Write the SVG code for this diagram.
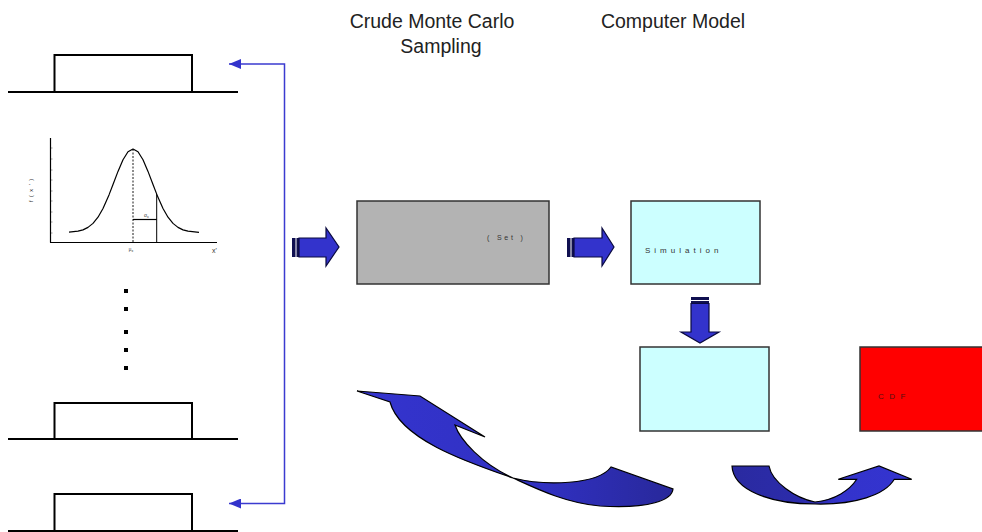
<svg xmlns="http://www.w3.org/2000/svg" width="982" height="532" viewBox="0 0 982 532">
  <style>
    .title { font-family: "Liberation Sans", Arial, sans-serif; font-size: 19.5px; fill: #222; }
    .tiny { font-family: "Liberation Sans", Arial, sans-serif; fill: #333; }
    .pulse { fill: #fff; stroke: #000; stroke-width: 2; }
    .base { stroke: #000; stroke-width: 2; fill: none; }
    .box { stroke: #333; stroke-width: 1.5; }
    .block { fill: #3333cc; stroke: #0a0a40; stroke-width: 1.2; stroke-linejoin: miter; }
    .stripe { fill: #101050; }
    .link { fill: none; stroke: #3b3bd0; stroke-width: 1.5; }
    .dot { fill: #000; }
    .curve { stroke: #000; stroke-width: 1.2; stroke-linejoin: miter; }
  </style>
  <defs>
    <marker id="tri" viewBox="0 0 12 10" refX="12" refY="5" markerWidth="12" markerHeight="10" markerUnits="userSpaceOnUse" orient="auto-start-reverse">
      <path d="M0,0 L12,5 L0,10 Z" fill="#3333cc"/>
    </marker>
    <linearGradient id="gLeft" x1="0" y1="0" x2="1" y2="0">
      <stop offset="0" stop-color="#3434cf"/>
      <stop offset="0.6" stop-color="#3030c0"/>
      <stop offset="1" stop-color="#28289a"/>
    </linearGradient>
    <linearGradient id="gRight" x1="0" y1="0" x2="1" y2="0">
      <stop offset="0" stop-color="#2a2aa0"/>
      <stop offset="0.45" stop-color="#2c2cad"/>
      <stop offset="0.6" stop-color="#3333cc"/>
      <stop offset="1" stop-color="#3434cf"/>
    </linearGradient>
  </defs>

  <!-- headings -->
  <g id="heading-sampling">
    <text class="title" x="432" y="28" text-anchor="middle">Crude Monte Carlo</text>
    <text class="title" x="441" y="53" text-anchor="middle">Sampling</text>
  </g>
  <g id="heading-model">
    <text class="title" x="673" y="28" text-anchor="middle">Computer Model</text>
  </g>

  <!-- input distributions -->
  <g id="input-uniform-1">
    <rect class="pulse" x="54.5" y="55" width="137.5" height="37"/>
    <line class="base" x1="8" y1="92" x2="238" y2="92"/>
  </g>

  <g id="input-normal">
    <line x1="50.5" y1="138" x2="50.5" y2="242.5" stroke="#000" stroke-width="1.2"/>
    <line x1="50" y1="242.5" x2="217" y2="242.5" stroke="#000" stroke-width="1.2"/>
    <path d="M51,148 h1.5 M51,159 h1.5 M51,170 h1.5 M51,180 h1.5 M51,191 h1.5 M51,201 h1.5 M51,212 h1.5 M51,222 h1.5 M51,233 h1.5" stroke="#555" stroke-width="0.6"/>
    <!-- normal density, mean 133, sd 19 px -->
    <polyline fill="none" stroke="#000" stroke-width="1.2" stroke-linejoin="round"
      points="69,232.2 78,231.2 83,229.9 88,227.4 93,223.4 98,217.2 103,208.5 109,194.9 113,184.5 118,171.4 123,159.8 128,151.8 133,149 138,151.8 143,159.8 148,171.4 153,184.5 157,194.9 163,208.5 168,217.2 173,223.4 178,227.4 183,229.9 188,231.2 199,232.4"/>
    <line x1="133" y1="149" x2="133" y2="242" stroke="#000" stroke-width="0.9" stroke-dasharray="2,1.5"/>
    <line x1="156.7" y1="194" x2="156.7" y2="242" stroke="#000" stroke-width="1"/>
    <line x1="133" y1="219.5" x2="156.7" y2="219.5" stroke="#000" stroke-width="1.2"/>
    <text class="tiny" x="144" y="217" font-size="5">σ<tspan font-size="3.5" dy="1">x</tspan></text>
    <text class="tiny" x="131" y="251" font-size="4.5" text-anchor="middle">μ<tspan font-size="3.5" dy="1">x</tspan></text>
    <text class="tiny" x="212" y="253" font-size="7">x'</text>
    <text class="tiny" x="33" y="190" font-size="5.5" text-anchor="middle" transform="rotate(-90 33 190)" letter-spacing="1">f ( x ' )</text>
  </g>

  <g id="ellipsis">
    <rect class="dot" x="124" y="289" width="4" height="4"/>
    <rect class="dot" x="124" y="307" width="4" height="4"/>
    <rect class="dot" x="124" y="330" width="4" height="4"/>
    <rect class="dot" x="124" y="348" width="4" height="4"/>
    <rect class="dot" x="124" y="366" width="4" height="4"/>
  </g>

  <g id="input-uniform-2">
    <rect class="pulse" x="54.5" y="403" width="137.5" height="36"/>
    <line class="base" x1="8" y1="439" x2="238" y2="439"/>
  </g>

  <g id="input-uniform-3">
    <rect class="pulse" x="54.5" y="494" width="137.5" height="37"/>
    <line class="base" x1="8" y1="531" x2="238" y2="531"/>
  </g>

  <!-- process blocks -->
  <g id="sampling-set">
    <rect class="box" x="357" y="201" width="192" height="83" fill="#b3b3b3"/>
    <text class="tiny" x="487" y="240" font-size="7" letter-spacing="2.8">( Set )</text>
  </g>

  <g id="simulation">
    <rect class="box" x="631" y="201" width="129" height="83" fill="#ccffff"/>
    <text class="tiny" x="645" y="253" font-size="8" letter-spacing="4">Simulation</text>
  </g>

  <g id="output">
    <rect class="box" x="640" y="347" width="129" height="84" fill="#ccffff"/>
  </g>

  <g id="cdf">
    <rect class="box" x="860" y="347" width="130" height="84" fill="#ff0000"/>
    <text x="878" y="399" font-family="Liberation Sans, Arial, sans-serif" font-size="8" fill="#551111" letter-spacing="5.5">CDF</text>
  </g>

  <!-- connectors -->
  <g id="connectors">
    <!-- feedback line to first and last inputs -->
    <path class="link" d="M229,64 H284.5 V503.5 H229" marker-start="url(#tri)" marker-end="url(#tri)"/>

    <!-- striped block arrows -->
    <g id="arrow-inputs-to-set">
      <rect class="stripe" x="292" y="238" width="3.5" height="19"/>
      <rect class="stripe" x="296.5" y="238" width="2.5" height="19"/>
      <path class="block" d="M299,238 H326 V228 L339,247 L326,266 V257 H299 Z"/>
    </g>
    <g id="arrow-set-to-simulation">
      <rect class="stripe" x="567" y="238" width="3.5" height="19"/>
      <rect class="stripe" x="571.5" y="238" width="2.5" height="19"/>
      <path class="block" d="M574,238 H602 V228 L614,247 L602,266 V257 H574 Z"/>
    </g>
    <g id="arrow-simulation-to-output">
      <rect class="stripe" x="691" y="297" width="18" height="3"/>
      <rect class="stripe" x="691" y="301" width="18" height="2.5"/>
      <path class="block" d="M691,303.5 H709 V332 H719 L700,343 L681,332 H691 Z"/>
    </g>

    <!-- curved arrow back towards sampling -->
    <path id="arrow-output-to-sampling" class="curve" fill="url(#gLeft)"
      d="M357,391 L420,396 L485,437 L455,425 C460,440 482,464 513,478 C545,486 598,485 611,467 L673,489 C672,500 650,509 600,506 C565,503 535,488 513,478 C470,463 400,440 390,402 Z"/>

    <!-- curved arrow to cdf -->
    <path id="arrow-output-to-cdf" class="curve" fill="url(#gRight)"
      d="M732,466 L769,466 C772,482 795,498 815,502 C835,500 850,490 856.7,479.3 L838.3,479.3 L879,466 L911.7,479.3 L894.3,479.3 C885,495 855,505 815,504 C770,504 733,490 732,466 Z"/>
  </g>
</svg>
